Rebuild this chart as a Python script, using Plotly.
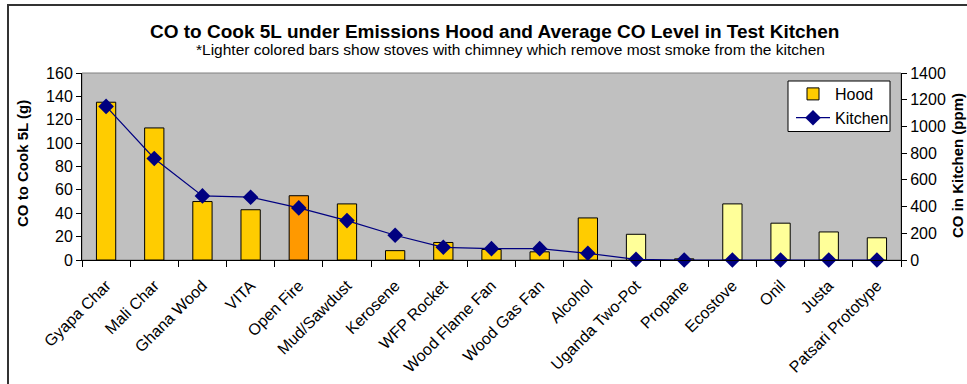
import plotly.graph_objects as go

# Stove test results
stoves = ["Gyapa Char", "Mali Char", "Ghana Wood", "VITA", "Open Fire", "Mud/Sawdust",
          "Kerosene", "WFP Rocket", "Wood Flame Fan", "Wood Gas Fan", "Alcohol",
          "Uganda Two-Pot", "Propane", "Ecostove", "Onil", "Justa", "Patsari Prototype"]
hood_co_g = [135, 113, 50, 43, 55, 48, 8, 15, 9, 7, 36, 22, 1, 48, 31.5, 24, 19]
kitchen_co_ppm = [1150, 760, 480, 470, 390, 295, 185, 95, 85, 85, 50, 5, 0, 0, 0, 0, 0]
# "chimney" stoves are drawn lighter; the open fire baseline gets its own shade
stove_type = ["plain", "plain", "plain", "plain", "open", "plain", "plain", "plain",
              "plain", "plain", "plain", "chimney", "plain", "chimney", "chimney",
              "chimney", "chimney"]

type_colors = {"plain": "#FFCC00", "open": "#FF9900", "chimney": "#FFFF99"}
bar_colors = [type_colors[t] for t in stove_type]

FONT = "Arial, Liberation Sans, sans-serif"

fig = go.Figure()
fig.add_trace(go.Bar(
    x=stoves, y=hood_co_g, name="Hood",
    marker=dict(color=bar_colors, line=dict(color="#000000", width=1)),
    yaxis="y",
))
fig.add_trace(go.Scatter(
    x=stoves, y=kitchen_co_ppm, name="Kitchen", mode="lines+markers",
    line=dict(color="#000080", width=1.2),
    marker=dict(symbol="diamond", size=12, color="#000080"),
    yaxis="y2", cliponaxis=False,
))

L, R, T, B = 82, 66, 73, 124
W, H = 967, 384
pw, ph = W - L - R, H - T - B

def px_x(p):
    return (p - L) / pw

def px_y(p):
    return (H - B - p) / ph

shapes = [
    # plot-area frame
    dict(type="rect", xref="paper", yref="paper", x0=0, x1=1, y0=0, y1=1,
         line=dict(color="#808080", width=1), layer="below"),
    # chart border
    dict(type="rect", xref="paper", yref="paper", x0=px_x(8), x1=px_x(990),
         y0=px_y(400), y1=px_y(5), line=dict(color="#333333", width=2)),
    # legend box
    dict(type="rect", xref="paper", yref="paper", x0=px_x(788), x1=px_x(890),
         y0=px_y(131.5), y1=px_y(81), fillcolor="#FFFFFF",
         line=dict(color="#000000", width=1), layer="above"),
]

annotations = [
    dict(text="<b>CO to Cook 5L under Emissions Hood and Average CO Level in Test Kitchen</b>",
         xref="paper", yref="paper", x=px_x(494), y=px_y(31), showarrow=False,
         xanchor="center", yanchor="middle", font=dict(family=FONT, size=19, color="#000")),
    dict(text="*Lighter colored bars show stoves with chimney which remove most smoke from the kitchen",
         xref="paper", yref="paper", x=px_x(510), y=px_y(50), showarrow=False,
         xanchor="center", yanchor="middle", font=dict(family=FONT, size=15.5, color="#000")),
    dict(text="<b>CO to Cook 5L (g)</b>", textangle=-90,
         xref="paper", yref="paper", x=px_x(22), y=px_y(164), showarrow=False,
         xanchor="center", yanchor="middle", font=dict(family=FONT, size=15, color="#000")),
    dict(text="<b>CO in Kitchen (ppm)</b>", textangle=-90,
         xref="paper", yref="paper", x=px_x(957), y=px_y(166), showarrow=False,
         xanchor="center", yanchor="middle", font=dict(family=FONT, size=15, color="#000")),
]

fig.update_layout(
    width=W, height=H,
    margin=dict(l=L, r=R, t=T, b=B, pad=0),
    paper_bgcolor="#FFFFFF", plot_bgcolor="#C0C0C0",
    font=dict(family=FONT, size=16, color="#000"),
    bargap=0.6,
    showlegend=True,
    legend=dict(x=px_x(791), y=px_y(77), xanchor="left", yanchor="top",
                bgcolor="rgba(0,0,0,0)", borderwidth=0,
                font=dict(family=FONT, size=16), tracegroupgap=0,
                itemwidth=34),
    xaxis=dict(type="category", range=[-0.5, len(stoves) - 0.5], tickangle=-45,
               tickson="boundaries", ticks="outside", ticklen=6, tickcolor="#000",
               ticklabelstandoff=9,
               showline=True, linecolor="#000", linewidth=1,
               showgrid=False, zeroline=False, automargin=False,
               tickfont=dict(family=FONT, size=16)),
    yaxis=dict(range=[0, 160], dtick=20, ticks="outside", ticklen=5, tickcolor="#000",
               showline=True, linecolor="#000", linewidth=1, automargin=False,
               showgrid=False, zeroline=False, tickfont=dict(family=FONT, size=16)),
    yaxis2=dict(range=[0, 1400], dtick=200, overlaying="y", side="right",
                ticks="outside", ticklen=5, tickcolor="#000", automargin=False,
                showline=True, linecolor="#000", linewidth=1,
                showgrid=False, zeroline=False, tickfont=dict(family=FONT, size=16)),
    shapes=shapes,
    annotations=annotations,
)

fig.write_html("out.html")
